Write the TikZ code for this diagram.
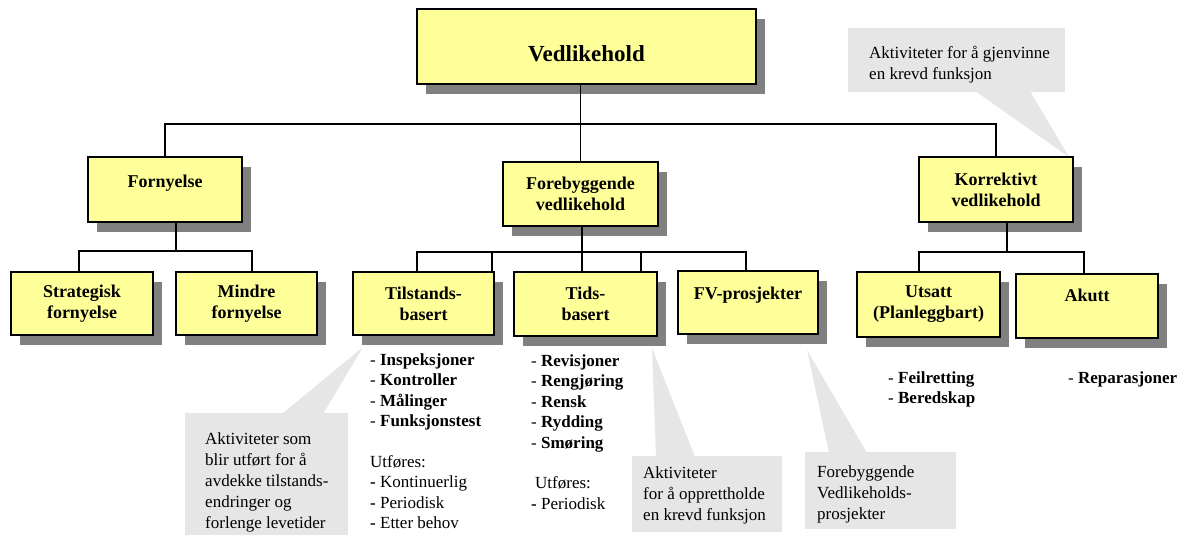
\documentclass[tikz,border=0pt]{standalone}
\usepackage{fontspec}
\setmainfont{Liberation Serif}
\usetikzlibrary{shadows,calc}
\definecolor{boxyellow}{HTML}{FFFF99}
\definecolor{shadowgray}{HTML}{808080}
\definecolor{callgray}{HTML}{E6E6E6}
\tikzset{
  box/.style={draw=black, line width=1.5pt, fill=boxyellow, align=center, inner sep=2pt,
     font=\fontsize{18}{21}\selectfont\bfseries,
     drop shadow={shadow xshift=9pt, shadow yshift=-10pt, fill=shadowgray, opacity=1}},
  conn/.style={draw=black, line width=1.2pt},
  callbox/.style={fill=callgray, draw=none, inner sep=0pt, anchor=north west},
  calltext/.style={anchor=north west, inner sep=0pt, align=left, font=\fontsize{17}{21}\selectfont},
  lst/.style={anchor=north west, inner sep=0pt, align=left, font=\fontsize{17}{20.4}\selectfont},
}
\begin{document}
\begin{tikzpicture}[x=1pt,y=-1pt]
\useasboundingbox (0,0) rectangle (1182,537);
% callouts
\node[callbox, minimum width=217, minimum height=64] (c1) at (848,28) {};
\coordinate (t1) at (1069,157);
\fill[callgray] (975,91) -- (t1) -- (1030,91) -- cycle;
\node[callbox, minimum width=163, minimum height=122] (c2) at (185,413) {};
\coordinate (t2) at (363,347);
\fill[callgray] (282,414) -- (t2) -- (323,414) -- cycle;
\node[callbox, minimum width=150, minimum height=76] (c3) at (632,456) {};
\coordinate (t3) at (652,348);
\fill[callgray] (656,457) -- (t3) -- (695,457) -- cycle;
\node[callbox, minimum width=151, minimum height=77] (c4) at (805,452) {};
\coordinate (t4) at (807,350);
\fill[callgray] (829,453) -- (t4) -- (867,453) -- cycle;
% boxes
\node[box, minimum width=339, minimum height=75, font=\fontsize{23}{27}\selectfont\bfseries, text height=32pt, text depth=1.6pt] (vedl) at (586.5,46.5) {Vedlikehold};
\node[box, minimum width=154, minimum height=65, text height=13pt, text depth=17.4pt] (forn) at (165,189.5) {Fornyelse};
\node[box, minimum width=155, minimum height=64] (fore) at (580.5,194) {Forebyggende\\vedlikehold};
\node[box, minimum width=154, minimum height=65] (korr) at (996,189.5) {Korrektivt\\vedlikehold};
\node[box, minimum width=142, minimum height=63] (strat) at (82,303.5) {Strategisk\\fornyelse};
\node[box, minimum width=141, minimum height=63] (mindre) at (246.5,303.5) {Mindre\\fornyelse};
\node[box, minimum width=141, minimum height=63] (tilst) at (423.5,303.5) {Tilstands-\\basert};
\node[box, minimum width=143, minimum height=64] (tids) at (585.5,304) {Tids-\\basert};
\node[box, minimum width=140, minimum height=63, text height=13pt, text depth=19.4pt] (fv) at (748,302.5) {FV-prosjekter};
\node[box, minimum width=143, minimum height=65] (utsatt) at (928.5,304.5) {Utsatt\\(Planleggbart)};
\node[box, minimum width=142, minimum height=64, text height=13pt, text depth=21.6pt] (akutt) at (1087,306) {Akutt};
% connectors
\coordinate (bus) at (0,124);
\draw[conn] (forn.north) -- (forn.north |- bus) -- (korr.north |- bus) -- (korr.north);
\draw[conn] (vedl.south -| fore.north) -- (fore.north);
\coordinate (b2) at (0,251);
\coordinate (fs) at ($(forn.south)+(11,0)$);
\coordinate (sn) at ($(strat.north)+(-3,0)$);
\coordinate (mn) at ($(mindre.north)+(5.5,0)$);
\draw[conn] (fs) -- (fs |- b2);
\draw[conn] (sn) -- (sn |- b2) -- (mn |- b2) -- (mn);
\coordinate (b3) at (0,252);
\coordinate (ts) at ($(tids.north)+(-3.5,0)$);
\draw[conn] (fore.south -| ts) -- (ts);
\coordinate (tn1) at ($(tilst.north)+(-6.5,0)$);
\coordinate (tn2) at ($(tilst.north)+(68.5,0)$);
\coordinate (dn2) at ($(tids.north)+(55.5,0)$);
\coordinate (fvn) at ($(fv.north)+(-2,0)$);
\draw[conn] (tn1) -- (tn1 |- b3) -- (fvn |- b3) -- (fvn);
\draw[conn] (tn2) -- (tn2 |- b3);
\draw[conn] (dn2) -- (dn2 |- b3);
\coordinate (b4) at (0,252);
\coordinate (ks) at ($(korr.south)+(11,0)$);
\coordinate (un) at ($(utsatt.north)+(-9.5,0)$);
\coordinate (an) at ($(akutt.north)+(-3,0)$);
\draw[conn] (ks) -- (ks |- b4);
\draw[conn] (un) -- (un |- b4) -- (an |- b4) -- (an);
% lists
\node[lst] (l1) at (370,353.4) {- \textbf{Inspeksjoner}\\- \textbf{Kontroller}\\- \textbf{Målinger}\\- \textbf{Funksjonstest}\\[20.4pt]Utføres:\\\textbf{-} Kontinuerlig\\\textbf{-} Periodisk\\\textbf{-} Etter behov};
\node[lst] (l2) at (531,354.4) {- \textbf{Revisjoner}\\- \textbf{Rengjøring}\\- \textbf{Rensk}\\- \textbf{Rydding}\\- \textbf{Smøring}\\[20.4pt]\hspace*{4pt}Utføres:\\\textbf{-} Periodisk};
\node[lst] (l3) at (888,371.4) {- \textbf{Feilretting}\\- \textbf{Beredskap}};
\node[lst] (l4) at (1068,371.4) {- \textbf{Reparasjoner}};
% callout texts
\node[calltext] (ct1) at (869,46.4) {Aktiviteter for å gjenvinne\\en krevd funksjon};
\node[calltext] (ct2) at (205,432.4) {Aktiviteter som\\blir utført for å\\avdekke tilstands-\\endringer og\\forlenge levetider};
\node[calltext] (ct3) at (643,466.4) {Aktiviteter\\for å opprettholde\\en krevd funksjon};
\node[calltext] (ct4) at (817,465.4) {Forebyggende\\Vedlikeholds-\\prosjekter};
\end{tikzpicture}
\end{document}
